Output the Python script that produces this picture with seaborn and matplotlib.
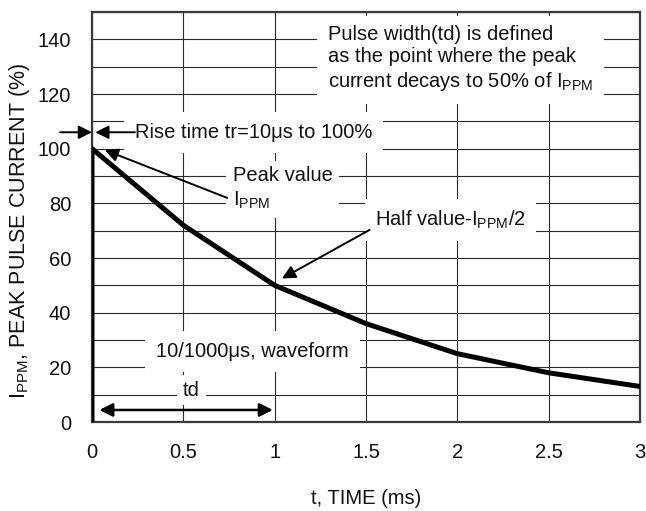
import numpy as np
import pandas as pd
from matplotlib import pyplot as plt
import seaborn as sns

# 10/1000us pulse waveform
time_ms = [0, 0, 0.5, 1.0, 1.5, 2.0, 2.5, 3.0]
current_pct = [0, 100, 72, 50, 36, 25, 18, 13]
x_ticks = [0, 0.5, 1, 1.5, 2, 2.5, 3]
x_tick_labels = ['0', '0.5', '1', '1.5', '2', '2.5', '3']
y_ticks = [0, 20, 40, 60, 80, 100, 120, 140]

df = pd.DataFrame({'t': time_ms, 'i': current_pct})

sns.set_style('whitegrid')
plt.rcParams['font.family'] = ['Liberation Sans', 'DejaVu Sans']
plt.rcParams['mathtext.fontset'] = 'custom'
plt.rcParams['mathtext.rm'] = 'Liberation Sans'
plt.rcParams['mathtext.it'] = 'Liberation Sans'
plt.rcParams['mathtext.default'] = 'rm'

fs = 14.5
ink = '#111111'

fig = plt.figure(figsize=(6.46, 5.11), dpi=100)
ax = fig.add_axes([92 / 646, 1 - 422 / 511, 548 / 646, 410 / 511])

sns.lineplot(data=df, x='t', y='i', sort=False, estimator=None,
             color='black', lw=3.6, ax=ax, zorder=4)

ax.set_xlim(0, 3)
ax.set_ylim(0, 150)
ax.set_xticks(x_ticks)
ax.set_xticklabels(x_tick_labels)
ax.set_yticks(y_ticks)
ax.set_yticks(np.arange(10, 151, 20), minor=True)
ax.grid(True, which='both', color='#2a2a2a', lw=0.8)
ax.tick_params(axis='both', which='both', length=0, labelsize=fs, colors=ink)
ax.tick_params(axis='y', pad=15)
ax.tick_params(axis='x', pad=15)
for s in ax.spines.values():
    s.set_color('#3a3a3a')
    s.set_linewidth(1.6)

ax.set_xlabel('t, TIME (ms)', fontsize=fs, color=ink)
ax.set_ylabel('I$_{PPM}$, PEAK PULSE CURRENT (%)', fontsize=15.5, color=ink)
ax.xaxis.set_label_coords(0.5, -0.163)
ax.yaxis.set_label_coords(-0.11, 0.465)

head = dict(arrowstyle='-|>', color='black', lw=1.4, mutation_scale=20,
            shrinkA=0, shrinkB=0)

ax.text(1.29, 132.8, 'Pulse width(td) is defined\nas the point where the peak\n'
        'current decays to 50% of I$_{PPM}$',
        fontsize=fs, color=ink, va='center', ha='left', linespacing=1.22,
        bbox=dict(facecolor='white', edgecolor='none', pad=8), zorder=3)

# rise time
ax.annotate('', xy=(0, 106), xytext=(-0.175, 106), arrowprops=head,
            annotation_clip=False, zorder=5)
ax.text(0.235, 106, 'Rise time tr=10\u03bcs to 100%', fontsize=fs, color=ink,
        va='center', ha='left', bbox=dict(facecolor='white', edgecolor='none', pad=8),
        zorder=3)
ax.annotate('', xy=(0.018, 106), xytext=(0.235, 106), arrowprops=head, zorder=5)

# peak value
ax.text(0.77, 85.3, 'Peak value\nI$_{PPM}$', fontsize=fs, color=ink,
        va='center', ha='left', linespacing=1.3,
        bbox=dict(facecolor='white', edgecolor='none', pad=5), zorder=3)
ax.annotate('', xy=(0.07, 99.5), xytext=(0.74, 82), arrowprops=head, zorder=5)

# half value
ax.text(1.55, 74, 'Half value-I$_{PPM}$/2', fontsize=fs, color=ink,
        va='center', ha='left', bbox=dict(facecolor='white', edgecolor='none', pad=7),
        zorder=3)
ax.annotate('', xy=(1.04, 52.5), xytext=(1.52, 70.3), arrowprops=head, zorder=5)

# waveform label and td
ax.text(0.35, 25.7, '10/1000\u03bcs, waveform', fontsize=fs, color=ink,
        va='center', ha='left', bbox=dict(facecolor='white', edgecolor='none', pad=8),
        zorder=3)
ax.text(0.545, 11.7, 'td', fontsize=fs, color=ink, va='center', ha='center',
        bbox=dict(facecolor='white', edgecolor='none', pad=4), zorder=3)
ax.annotate('', xy=(0.99, 4.4), xytext=(0.04, 4.4),
            arrowprops=dict(arrowstyle='<|-|>', color='black', lw=1.8,
                            mutation_scale=20, shrinkA=0, shrinkB=0), zorder=5)

plt.savefig('out.png', dpi=100)
